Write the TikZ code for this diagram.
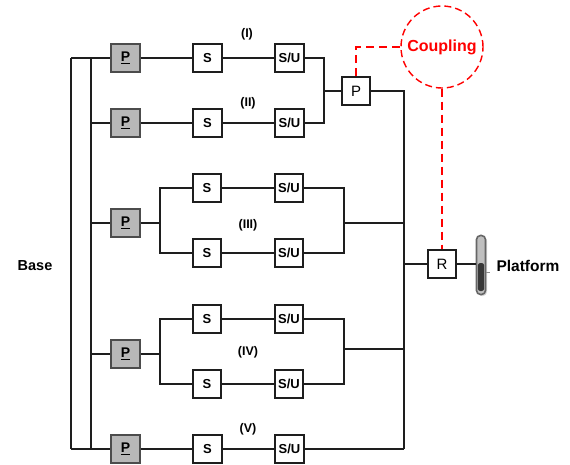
\documentclass[tikz,border=0pt]{standalone}
\usepackage{fontspec}
\setmainfont{Liberation Sans}
\usetikzlibrary{shadows}
\definecolor{boxgray}{HTML}{B8B8B8}
\definecolor{linegray}{HTML}{1E1E1E}
\tikzset{
  joint/.style={draw=linegray, line width=1.7pt, minimum size=28.5pt, inner sep=0pt, font=\fontsize{15}{15}\selectfont},
  actuated/.style={joint, draw=black!70, fill=boxgray, font=\bfseries\fontsize{14}{14}\selectfont},
  small/.style={joint, font=\bfseries\fontsize{13}{13}\selectfont},
  link/.style={draw=linegray, line width=1.3pt},
  heavy/.style={draw=linegray, line width=1.9pt},
  redlink/.style={draw=red, line width=2.4pt, dash pattern=on 8pt off 5pt},
  caption/.style={inner sep=0pt, font=\bfseries\fontsize{12.5}{12.5}\selectfont}
}
\begin{document}
\begin{tikzpicture}[x=1pt, y=-1pt, node distance=82pt]
  \useasboundingbox (0,0) rectangle (570,464);

  % chain I
  \node (p1) [actuated] at (125.5,58) {\underline{P}};
  \node (s1) [small, right of=p1] {S};
  \node (su1) [small, right of=s1] {S/U};
  % chain II
  \node (p2) [actuated] at (125.5,123) {\underline{P}};
  \node (s2) [small, right of=p2] {S};
  \node (su2) [small, right of=s2] {S/U};
  % chain III
  \node (p3) [actuated] at (125.5,223) {\underline{P}};
  \node (s3a) [small] at (207,188) {S};
  \node (su3a) [small, right of=s3a] {S/U};
  \node (s3b) [small] at (207,253) {S};
  \node (su3b) [small, right of=s3b] {S/U};
  % chain IV
  \node (p4) [actuated] at (125.5,354) {\underline{P}};
  \node (s4a) [small] at (207,319) {S};
  \node (su4a) [small, right of=s4a] {S/U};
  \node (s4b) [small] at (207,384) {S};
  \node (su4b) [small, right of=s4b] {S/U};
  % chain V
  \node (p5) [actuated] at (125.5,449) {\underline{P}};
  \node (s5) [small, right of=p5] {S};
  \node (su5) [small, right of=s5] {S/U};

  \node (pc) [joint] at (356,91) {P};
  \node (r) [joint] at (442,264) {R};
  \node (coupling) [draw=red, circle, line width=1.4pt, dash pattern=on 7pt off 4pt, minimum size=82pt, inner sep=0pt, text=red, font=\bfseries\fontsize{16}{16}\selectfont] at (442,47) {Coupling};
  \node (platform) [draw=black!60, fill=black!25, rounded corners=4pt, line width=1.6pt, minimum width=9pt, minimum height=59pt, inner sep=0pt, drop shadow={opacity=.3, shadow xshift=1.5pt, shadow yshift=-1.5pt}] at (481,265) {};
  \fill [black!78, rounded corners=2.5pt] (477.8,263) rectangle (484.2,291);

  \node (base) [caption, font=\bfseries\fontsize{14.5}{14.5}\selectfont] at (35,266) {Base};
  \node (plat) [caption, font=\bfseries\fontsize{15.5}{15.5}\selectfont] at (528,266) {Platform};
  \node (l1) [caption] at (247,34) {(I)};
  \node (l2) [caption] at (248,103) {(II)};
  \node (l3) [caption] at (248,225) {(III)};
  \node (l4) [caption] at (248,352) {(IV)};
  \node (l5) [caption] at (248,429) {(V)};

  \coordinate (outer1) at (71,58);
  \coordinate (outer5) at (71,449);
  \coordinate (inner1) at (91,58);
  \coordinate (inner5) at (91,449);
  \coordinate (m12) at (324,91);
  \coordinate (fork3) at (160,223);
  \coordinate (fork4) at (160,354);
  \coordinate (m3) at (344,223);
  \coordinate (m4) at (344,349);
  \coordinate (bus3) at (404,223);
  \coordinate (bus4) at (404,349);
  \coordinate (busr) at (404,264);
  \coordinate (bus5) at (404,449);
  \coordinate (bend) at (356,47);
  \coordinate (tick) at (490,272);

  \draw [link] (outer1) -- (outer5);
  \draw [link] (inner1) -- (inner5);
  \draw [link] (outer1) -- (p1);
  \draw [link] (outer5) -- (p5);
  \draw [heavy] (inner1 |- p2) -- (p2);
  \draw [link] (inner1 |- p3) -- (p3);
  \draw [link] (inner1 |- p4) -- (p4);

  \draw [link] (p1) -- (s1);
  \draw [link] (s1) -- (su1);
  \draw [link] (p2) -- (s2);
  \draw [link] (s2) -- (su2);
  \draw [link] (p5) -- (s5);
  \draw [link] (s5) -- (su5);
  \draw [link] (su5) -- (bus5);

  \draw [heavy] (su1) -| (m12);
  \draw [link] (su2) -| (m12);
  \draw [link] (m12) -- (pc);
  \draw [link] (pc) -| (bus5);

  \draw [heavy] (p3) -- (fork3);
  \draw [link] (fork3) |- (s3a);
  \draw [link] (fork3) |- (s3b);
  \draw [link] (s3a) -- (su3a);
  \draw [link] (s3b) -- (su3b);
  \draw [heavy] (su3a) -| (m3);
  \draw [link] (su3b) -| (m3);
  \draw [link] (m3) -- (bus3);

  \draw [heavy] (p4) -- (fork4);
  \draw [link] (fork4) |- (s4a);
  \draw [link] (fork4) |- (s4b);
  \draw [link] (s4a) -- (su4a);
  \draw [link] (s4b) -- (su4b);
  \draw [heavy] (su4a) -| (m4);
  \draw [link] (su4b) -| (m4);
  \draw [link] (m4) -- (bus4);

  \draw [heavy] (busr) -- (r);
  \draw [link] (r) -- (platform.west |- r);
  \draw [draw=black!45, line width=.6pt] (platform.east |- tick) -- (tick);

  \draw [redlink] (pc) -- (bend) -- (coupling);
  \draw [redlink] (coupling) -- (r);
\end{tikzpicture}
\end{document}
